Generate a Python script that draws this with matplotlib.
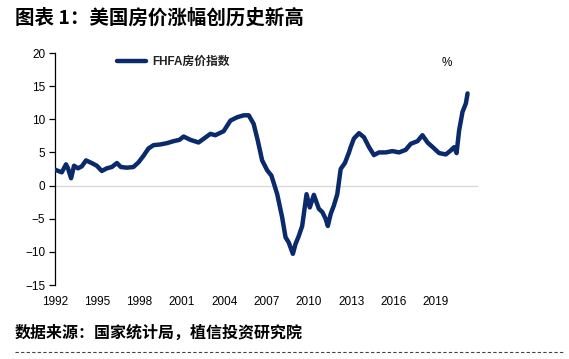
import matplotlib
matplotlib.use("Agg")
import matplotlib.pyplot as plt
from matplotlib.lines import Line2D

plt.rcParams['font.family'] = ['Liberation Sans', 'Noto Sans CJK SC', 'DejaVu Sans']

# Data (decimal year, % y/y)
years = [1992.0, 1992.48, 1992.78, 1992.92, 1993.14, 1993.35, 1993.63, 1993.9, 1994.2, 1994.6,
         1994.96, 1995.32, 1995.67, 1996.03, 1996.39, 1996.67, 1997.1, 1997.56, 1997.92, 1998.28,
         1998.63, 1998.99, 1999.46, 1999.94, 2000.41, 2000.83, 2001.12, 2001.6, 2002.18, 2003.02,
         2003.37, 2003.96, 2004.44, 2004.91, 2005.38, 2005.74, 2006.09, 2006.38, 2006.69, 2007.05,
         2007.35, 2007.76, 2008.11, 2008.35, 2008.58, 2008.87, 2009.06, 2009.29, 2009.53, 2009.84,
         2010.07, 2010.36, 2010.71, 2010.96, 2011.19, 2011.35, 2011.55, 2011.78, 2012.02, 2012.26,
         2012.56, 2012.85, 2012.97, 2013.2, 2013.56, 2013.91, 2014.27, 2014.62, 2014.98, 2015.45,
         2015.93, 2016.4, 2016.88, 2017.23, 2017.71, 2018.06, 2018.42, 2018.89, 2019.24, 2019.72,
         2020.07, 2020.31, 2020.48, 2020.66, 2020.9, 2021.14, 2021.26]
values = [2.4, 2.0, 3.2, 2.6, 1.1, 3.0, 2.6, 2.9, 3.8, 3.4,
          3.0, 2.2, 2.6, 2.8, 3.4, 2.8, 2.7, 2.8, 3.5, 4.5,
          5.6, 6.1, 6.2, 6.4, 6.7, 6.9, 7.4, 6.9, 6.5, 7.8,
          7.6, 8.2, 9.8, 10.3, 10.6, 10.6, 9.3, 6.8, 3.8, 2.3,
          1.5, -1.3, -4.8, -7.8, -8.6, -10.3, -8.8, -7.6, -6.1, -1.3,
          -3.3, -1.4, -3.5, -4.0, -5.0, -6.1, -4.3, -3.0, -1.3, 2.5,
          3.4, 5.0, 5.8, 7.1, 7.9, 7.3, 5.8, 4.6, 5.0, 5.0,
          5.2, 5.0, 5.4, 6.3, 6.7, 7.6, 6.5, 5.6, 4.9, 4.7,
          5.3, 5.8, 4.9, 8.3, 11.1, 12.4, 13.9]
series_name = "FHFA房价指数"
xticks = [1992, 1995, 1998, 2001, 2004, 2007, 2010, 2013, 2016, 2019]
yticks = [-15, -10, -5, 0, 5, 10, 15, 20]

W, H = 569, 359
fig = plt.figure(figsize=(W / 100, H / 100), dpi=100)
ax = fig.add_axes([55 / W, 1 - 285 / H, (478 - 55) / W, (285 - 53) / H])

navy = '#0b2a6b'
ax.axhline(0, color='#d9d9d9', lw=1.0, zorder=1)
ax.plot(years, values, color=navy, lw=3.2, solid_joinstyle='round', solid_capstyle='round',
        label=series_name, zorder=3)

ax.set_xlim(1992, 2022)
ax.set_ylim(-15, 20)
ax.set_xticks(xticks)
ax.set_xticklabels([str(t) for t in xticks])
ax.set_yticks(yticks)
ax.set_yticklabels([str(t).replace('-', '\u2212') for t in yticks])

for s in ['top', 'right', 'bottom']:
    ax.spines[s].set_visible(False)
ax.spines['left'].set_color('black')
ax.spines['left'].set_linewidth(0.9)
ax.tick_params(axis='y', direction='out', length=4, width=0.9, labelsize=8.5, pad=3, colors='black')
ax.tick_params(axis='x', length=0, labelsize=8.5, pad=8, colors='black')

leg = ax.legend(loc='upper left', bbox_to_anchor=((112 - 55) / (478 - 55), 1.0 + 2 / 232),
                frameon=False, handlelength=2.5, handletextpad=0.5, borderaxespad=0,
                prop={'family': ['Liberation Sans', 'Noto Sans CJK SC'], 'size': 8.5, 'weight': 'bold'})
for t in leg.get_texts():
    t.set_color('#222222')

fig.text(447 / W, 1 - 63 / H, '%', ha='center', va='center', fontsize=8.5)

fig.text(15 / W, 1 - 18 / H, '图表 1：美国房价涨幅创历史新高', ha='left', va='center',
         fontsize=14, fontweight='bold', family=['Noto Sans CJK SC', 'DejaVu Sans'])
fig.text(15 / W, 1 - 333 / H, '数据来源：国家统计局，植信投资研究院', ha='left', va='center',
         fontsize=11.5, fontweight='bold', family=['Noto Sans CJK SC', 'DejaVu Sans'])

fig.add_artist(Line2D([15 / W, 565 / W], [1 - 352 / H, 1 - 352 / H], transform=fig.transFigure,
                      color='#444444', lw=0.8, ls=(0, (3, 2))))

fig.savefig('out.png', dpi=100)
